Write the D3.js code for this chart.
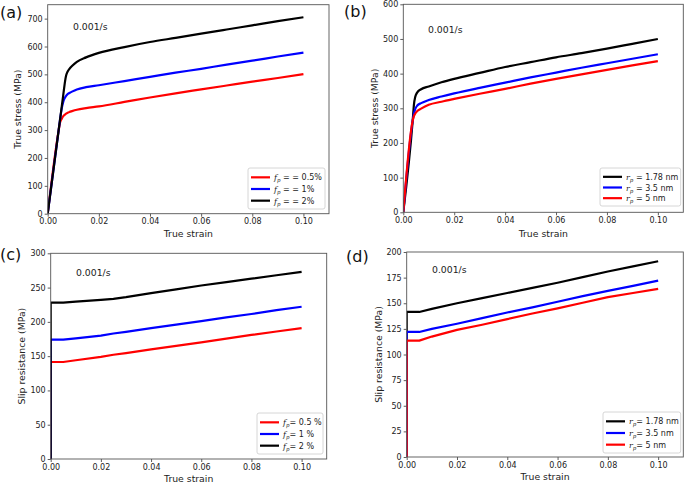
<!DOCTYPE html>
<html><head><meta charset="utf-8">
<script src="https://cdn.jsdelivr.net/npm/d3@7"></script>
<style>body{margin:0;background:#fff}svg{display:block}text{font-family:"DejaVu Sans",sans-serif}</style>
</head><body><svg id="c" width="685" height="484"></svg>
<script>
// ---- Panel (a): true stress vs strain, varying f_p
const aStrain = [0, 0.0043, 0.0048, 0.0055, 0.0061, 0.0068, 0.0072, 0.0078, 0.0085, 0.0095, 0.0114, 0.015, 0.02, 0.03, 0.04, 0.05, 0.06, 0.07, 0.08, 0.09, 0.10];
const aRed   = [0, 300, 326, 341, 350, 356, 359, 362, 365, 368, 373, 379, 385, 401, 417, 432, 446, 460, 474, 487, 501];
const aBlue  = [0, 301, 336, 378, 402, 417, 423, 429, 433, 438, 446, 454, 461, 476, 491, 506, 520, 535, 549, 564, 578];
const aBlack = [0, 301, 336, 385, 427, 476, 496, 510, 520, 530, 545, 561, 577, 598, 616, 631, 646, 661, 676, 691, 705];
const aLabels = ["= = 0.5%", "= = 1%", "= = 2%"];
// ---- Panel (b): true stress vs strain, varying r_p
const bStrain = [0, 0.0037, 0.0042, 0.0047, 0.0055, 0.007, 0.01, 0.015, 0.02, 0.03, 0.04, 0.05, 0.06, 0.07, 0.08, 0.09, 0.10];
const bBlack  = [0, 265, 312, 333, 346, 355, 363, 375, 385, 402, 419, 433, 447, 459, 472, 486, 500];
const bBlue   = [0, 265, 285, 298, 308, 315, 324, 334, 343, 359, 374, 389, 403, 417, 430, 443, 456];
const bRed    = [0, 265, 278, 285, 292, 299, 310, 319, 327, 342, 356, 371, 385, 398, 411, 424, 436];
const bLabels = ["= 1.78 nm", "= 3.5 nm", "= 5 nm"];
// ---- Panel (c): slip resistance vs strain, varying f_p
const cStrain = [0, 0, 0.005, 0.01, 0.02, 0.025, 0.03, 0.04, 0.05, 0.06, 0.07, 0.08, 0.09, 0.10];
const cRed    = [0, 141.5, 141.5, 144, 149, 152, 154.5, 160, 165, 170, 175.5, 181, 186, 191];
const cBlue   = [0, 174, 174, 176, 180, 183, 185.5, 191, 196, 201, 206.5, 211.5, 217, 222];
const cBlack  = [0, 228, 228, 229.5, 232, 233.5, 236, 242, 247.5, 253, 258, 263, 268, 273];
const cLabels = ["= 0.5 %", "= 1 %", "= 2 %"];
// ---- Panel (d): slip resistance vs strain, varying r_p
const dStrain = [0, 0, 0.005, 0.01, 0.02, 0.03, 0.04, 0.05, 0.06, 0.07, 0.08, 0.09, 0.10];
const dBlack  = [0, 141.5, 141.5, 144.5, 150, 155, 160, 165, 170, 175.5, 181, 186, 191];
const dBlue   = [0, 122, 122, 125, 130, 135.5, 141, 146, 151.5, 157, 162, 167, 172];
const dRed    = [0, 113.5, 113.5, 117.5, 124, 129, 134.5, 140, 145, 150.5, 156, 160, 164];
const dLabels = ["= 1.78 nm", "= 3.5 nm", "= 5 nm"];

const xTicks = [0, 0.02, 0.04, 0.06, 0.08, 0.10];
const rateText = "0.001/s";
const RED = "#ff0000", BLUE = "#0000ff", BLACK = "#000000";

const svg = d3.select("#c");

const panels = [
  {tag:"(a)", box:[47.7, 4.7, 329, 213.7], ymax:750, yTicks:d3.range(0,701,100), ylabel:"True stress (MPa)",
   ylabX:18, xlabY:237, rate:[73,30], curve:d3.curveMonotoneX, sym:"f", strain:aStrain,
   series:[[aRed,RED],[aBlue,BLUE],[aBlack,BLACK]], labels:aLabels,
   leg:[248,168,325,209], tagPos:[0,18]},
  {tag:"(b)", box:[403.3, 4.3, 683.3, 212.3], ymax:600, yTicks:d3.range(0,601,100), ylabel:"True stress (MPa)",
   ylabX:375, xlabY:237, rate:[428,33], curve:d3.curveMonotoneX, sym:"r", strain:bStrain,
   series:[[bBlack,BLACK],[bBlue,BLUE],[bRed,RED]], labels:bLabels,
   leg:[600,168,680.7,206], tagPos:[344,17]},
  {tag:"(c)", box:[50.7, 253.3, 326.7, 459], ymax:300, yTicks:d3.range(0,301,50), ylabel:"Slip resistance (MPa)",
   ylabX:22, xlabY:482, rate:[76,276], curve:d3.curveLinear, sym:"f", strain:cStrain,
   series:[[cRed,RED],[cBlue,BLUE],[cBlack,BLACK]], labels:cLabels,
   leg:[257,413,323,454], tagPos:[0,260]},
  {tag:"(d)", box:[406.7, 252, 683.3, 457], ymax:200, yTicks:d3.range(0,201,25), ylabel:"Slip resistance (MPa)",
   ylabX:379, xlabY:480, rate:[432,273], curve:d3.curveLinear, sym:"r", strain:dStrain,
   series:[[dBlack,BLACK],[dBlue,BLUE],[dRed,RED]], labels:dLabels,
   leg:[603,412,680.7,453], tagPos:[346,262]}
];

panels.forEach(p => {
  const [x0,y0,x1,y1] = p.box;
  const x = d3.scaleLinear().domain([0,0.11]).range([x0,x1]);
  const y = d3.scaleLinear().domain([0,p.ymax]).range([y1,y0]);
  const g = svg.append("g");

  const cid = "clip" + p.tag.replace(/[()]/g,"");
  svg.append("clipPath").attr("id",cid).append("rect")
    .attr("x",x0).attr("y",y0-1).attr("width",x1-x0+1).attr("height",y1-y0+1);

  const line = d3.line().x((d,i)=>x(p.strain[i])).y(d=>y(d)).curve(p.curve);
  p.series.forEach(([vals,col]) => {
    g.append("path").attr("d", line(vals)).attr("fill","none").attr("stroke",col)
      .attr("stroke-width",2.2).attr("stroke-linejoin","round").attr("clip-path",`url(#${cid})`);
  });

  const xa = g.append("g").attr("transform",`translate(0,${y1})`)
    .call(d3.axisBottom(x).tickValues(xTicks).tickFormat(d3.format(".2f")).tickSizeOuter(0).tickSize(3).tickPadding(2));
  const ya = g.append("g").attr("transform",`translate(${x0},0)`)
    .call(d3.axisLeft(y).tickValues(p.yTicks).tickFormat(d3.format("d")).tickSizeOuter(0).tickSize(3).tickPadding(2));
  [xa,ya].forEach(a=>{
    a.select(".domain").remove();
    a.selectAll("line").attr("stroke","#333").attr("stroke-width",0.8);
    a.selectAll("text").attr("font-size",8).attr("fill","#222").attr("font-family","DejaVu Sans");
  });
  g.append("rect").attr("x",x0).attr("y",y0).attr("width",x1-x0).attr("height",y1-y0)
    .attr("fill","none").attr("stroke","#555").attr("stroke-width",0.9);

  g.append("text").attr("x",(x0+x1)/2).attr("y",p.xlabY).attr("text-anchor","middle")
    .attr("font-size",9.3).attr("fill","#222").text("True strain");
  g.append("text").attr("transform",`translate(${p.ylabX},${(y0+y1)/2}) rotate(-90)`)
    .attr("text-anchor","middle").attr("dy","0.35em").attr("font-size",9.3).attr("fill","#222").text(p.ylabel);
  g.append("text").attr("x",p.rate[0]).attr("y",p.rate[1]).attr("font-size",9.3).attr("fill","#222").text(rateText);
  g.append("text").attr("x",p.tagPos[0]).attr("y",p.tagPos[1]).attr("font-size",16)
    .attr("font-family","Liberation Serif, serif").attr("fill","#111").text(p.tag);

  const [lx0,ly0,lx1,ly1] = p.leg;
  g.append("rect").attr("x",lx0).attr("y",ly0).attr("width",lx1-lx0).attr("height",ly1-ly0)
    .attr("rx",2).attr("fill","#fff").attr("fill-opacity",0.9).attr("stroke","#ccc").attr("stroke-width",0.8);
  const rowH = (ly1-ly0-6)/3;
  p.series.forEach(([vals,col],i) => {
    const cy = ly0 + 3 + rowH*(i+0.5) + 0.5;
    g.append("line").attr("x1",lx0+3).attr("x2",lx0+22).attr("y1",cy).attr("y2",cy)
      .attr("stroke",col).attr("stroke-width",2.2);
    const t = g.append("text").attr("x",lx0+26).attr("y",cy+3).attr("font-size",8).attr("fill","#222");
    t.append("tspan").attr("font-style","italic").attr("font-family","DejaVu Serif").text(p.sym);
    t.append("tspan").attr("font-style","italic").attr("font-family","DejaVu Serif").attr("font-size",5.5).attr("dy",2).text("p");
    t.append("tspan").attr("dy",-2).text(p.labels[i].startsWith("= =") || p.tag==="(b)" ? " " + p.labels[i] : p.labels[i]);
  });
});
</script></body></html>
